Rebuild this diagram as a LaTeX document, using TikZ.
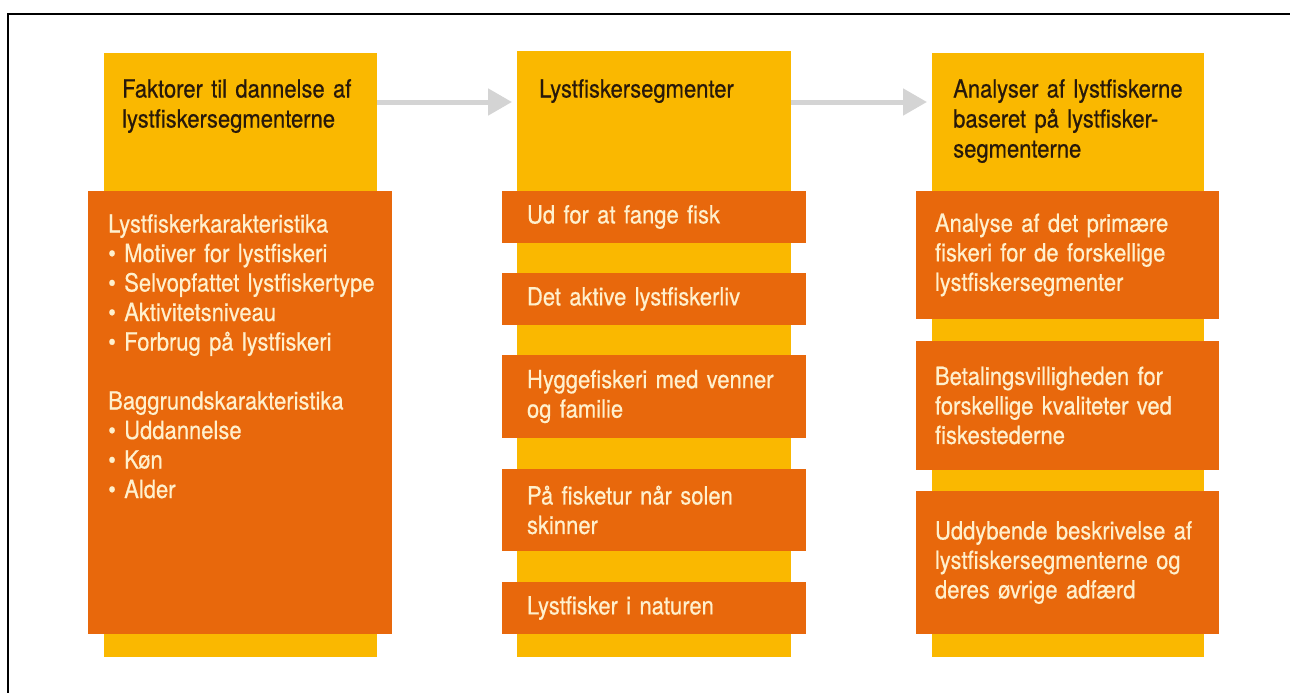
\documentclass[tikz,border=0pt]{standalone}
\usepackage{fontspec}
\setmainfont{TeX Gyre Heros}[FakeStretch=0.88,WordSpace=0.85,FakeBold=0.5]
\usetikzlibrary{arrows.meta}
\definecolor{yel}{RGB}{250,184,0}
\definecolor{org}{RGB}{232,104,12}
\definecolor{cream}{RGB}{255,240,205}
\definecolor{dark}{RGB}{40,25,10}
\definecolor{agray}{RGB}{212,212,212}
\newcommand{\bodyfnt}{\fontsize{25}{29.5}\selectfont}
\newcommand{\headfnt}{\fontsize{25}{30}\selectfont}
\tikzset{
  ybox/.style={fill=yel, inner sep=0pt, outer sep=0pt, anchor=north west},
  obox/.style={fill=org, inner sep=0pt, outer sep=0pt, anchor=north west, text=cream, align=left, font=\bodyfnt},
  htext/.style={text=dark, inner sep=0pt, anchor=north west, align=left, font=\headfnt},
  btext/.style={text=cream, inner sep=0pt, anchor=north west, align=left, font=\bodyfnt},
  arr/.style={draw=agray, line width=5pt, -{Triangle[length=24pt,width=26pt]}},
  frameline/.style={draw=black, line width=1.5pt}
}
\begin{document}
\begin{tikzpicture}[x=1pt,y=-1pt]
\useasboundingbox (0,0) rectangle (1290,693);
\draw[frameline] (8,693) -- (8,14) -- (1290,14);

% column 1
\node[ybox, minimum width=273, minimum height=604] (y1) at (104,53) {};
\node[ybox, fill=org, minimum width=304, minimum height=443] (o1) at (88,191) {};
\node[htext, text width=250] (h1) at (122,79) {Faktorer til dannelse af\\lystfiskersegmenterne};
\node[btext, text width=284] (t1) at (108,214) {Lystfiskerkarakteristika\\
\textbullet\ Motiver for lystfiskeri\\
\textbullet\ Selvopfattet lystfiskertype\\
\textbullet\ Aktivitetsniveau\\
\textbullet\ Forbrug på lystfiskeri\\[29.5pt]
Baggrundskarakteristika\\
\textbullet\ Uddannelse\\
\textbullet\ Køn\\
\textbullet\ Alder};

% column 2
\node[ybox, minimum width=274, minimum height=606] (y2) at (517,51) {};
\node[htext, text width=250] (h2) at (539,79) {Lystfiskersegmenter};
\node[obox, minimum width=304, minimum height=52, text width=254, inner xsep=25] (s1) at (502,191) {Ud for at fange fisk};
\node[obox, minimum width=304, minimum height=52, text width=254, inner xsep=25] (s2) at (502,273) {Det aktive lystfiskerliv};
\node[obox, minimum width=304, minimum height=83, text width=254, inner xsep=25] (s3) at (502,355) {Hyggefiskeri med venner\\og familie};
\node[obox, minimum width=304, minimum height=82, text width=254, inner xsep=25] (s4) at (502,469) {På fisketur når solen\\skinner};
\node[obox, minimum width=304, minimum height=52, text width=254, inner xsep=25] (s5) at (502,582) {Lystfisker i naturen};

% column 3
\node[ybox, minimum width=272, minimum height=604] (y3) at (932,53) {};
\node[htext, text width=250] (h3) at (953,79) {Analyser af lystfiskerne\\baseret på lystfisker-\\segmenterne};
\node[obox, minimum width=303, minimum height=128, text width=265, inner xsep=19] (a1) at (916,191) {Analyse af det primære\\fiskeri for de forskellige\\lystfiskersegmenter};
\node[obox, minimum width=303, minimum height=129, text width=265, inner xsep=19] (a2) at (916,341) {Betalingsvilligheden for\\forskellige kvaliteter ved\\fiskestederne};
\node[obox, minimum width=303, minimum height=143, text width=265, inner xsep=19] (a3) at (916,491) {Uddybende beskrivelse af\\lystfiskersegmenterne og\\deres øvrige adfærd};

% arrows
\coordinate (ay) at (0,102);
\draw[arr, shorten >=5pt] (y1.east |- ay) -- (y2.west |- ay);
\draw[arr, shorten >=5pt] (y2.east |- ay) -- (y3.west |- ay);
\end{tikzpicture}
\end{document}
